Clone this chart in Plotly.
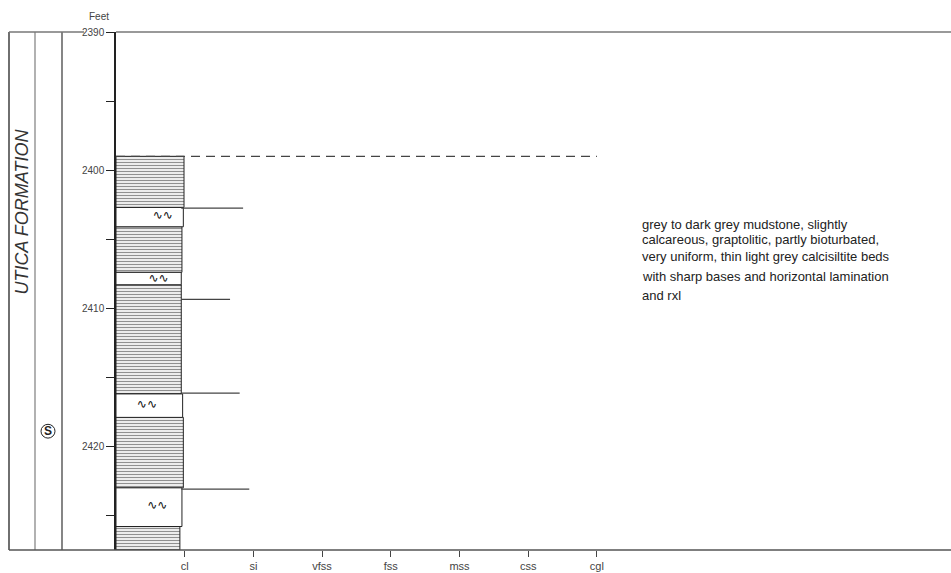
import plotly.graph_objects as go

# Grain-size scale along the bottom axis
grain_labels = ["cl", "si", "vfss", "fss", "mss", "css", "cgl"]
grain_pos = [1, 2, 3, 4, 5, 6, 7]

# Depth axis (feet)
depth_top = 2390
depth_bottom = 2427.5
depth_ticks = [2390, 2395, 2400, 2405, 2410, 2415, 2420, 2425]
depth_labels = ["2390", "", "2400", "", "2410", "", "2420", ""]

# Laminated mudstone intervals: top, base, grain-size width
mud_top = [2399.0, 2404.1, 2408.3, 2417.9, 2425.8]
mud_base = [2402.7, 2407.4, 2416.2, 2423.0, 2427.5]
mud_width = [0.99, 0.96, 0.95, 0.98, 0.93]

# Light grey calcisiltite beds: top, base, grain-size width
bed_top = [2402.7, 2407.4, 2416.2, 2423.0]
bed_base = [2404.1, 2408.3, 2417.9, 2425.8]
bed_width = [0.98, 0.95, 0.97, 0.96]

# Grain-size ticks to the right of the column: depth and grain size
gs_depth = [2402.75, 2409.35, 2416.15, 2423.1]
gs_value = [1.85, 1.66, 1.80, 1.94]

# Bioturbation symbols inside beds
bio_depth = [2403.35, 2407.85, 2417.0, 2424.3]
bio_x = [0.68, 0.62, 0.45, 0.60]

# Sample marker in the second column (depth)
sample_depth = 2418.9

top_contact = 2399.0

description = [
    "grey to dark grey mudstone, slightly",
    "calcareous, graptolitic, partly bioturbated,",
    "very uniform, thin light grey calcisiltite beds",
    "with sharp bases and horizontal lamination",
    "and rxl",
]
desc_y = [2403.95, 2405.0, 2406.25, 2407.7, 2409.1]

fig = go.Figure()

mid = lambda a, b: [(t + s) / 2 for t, s in zip(a, b)]
thick = lambda a, b: [s - t for t, s in zip(a, b)]

fig.add_trace(go.Bar(
    orientation="h",
    y=mid(mud_top, mud_base), x=mud_width, width=thick(mud_top, mud_base), base=0,
    marker=dict(color="white", line=dict(color="#222", width=1),
                pattern=dict(shape="-", size=3, solidity=0.45, fgcolor="#222", bgcolor="white")),
    hoverinfo="skip", showlegend=False,
))
fig.add_trace(go.Bar(
    orientation="h",
    y=mid(bed_top, bed_base), x=bed_width, width=thick(bed_top, bed_base), base=0,
    marker=dict(color="white", line=dict(color="#222", width=1)),
    hoverinfo="skip", showlegend=False,
))

for d, v in zip(gs_depth, gs_value):
    fig.add_trace(go.Scatter(x=[0.95, v], y=[d, d], mode="lines",
                             line=dict(color="#444", width=1.2),
                             hoverinfo="skip", showlegend=False))

fig.add_trace(go.Scatter(x=[0, grain_pos[-1]], y=[top_contact, top_contact], mode="lines",
                         line=dict(color="#444", width=1.2, dash="9px,6px"),
                         hoverinfo="skip", showlegend=False))

fig.add_trace(go.Scatter(x=bio_x, y=bio_depth, mode="text", text=["∿∿"] * len(bio_x),
                         textfont=dict(size=12, color="#111", family="DejaVu Sans"),
                         hoverinfo="skip", showlegend=False))

for line, yv in zip(description, desc_y):
    fig.add_annotation(x=7.63, y=yv, xref="x", yref="y", text=line, showarrow=False,
                       xanchor="left", yanchor="middle",
                       font=dict(family="Liberation Sans, Arial", size=13, color="#222"))

# Left-hand stratigraphic columns
L = 116
W = 951 - L
px = lambda p: (p - L) / W
shapes = []
for xp, col in [(9, "#222"), (35, "#888"), (62, "#444")]:
    shapes.append(dict(type="line", xref="paper", yref="paper", x0=px(xp), x1=px(xp),
                       y0=0, y1=1, line=dict(color=col, width=1.3)))
# top border, broken around the first depth label
for x0, x1 in [(px(9), px(84)), (0, 1)]:
    shapes.append(dict(type="line", xref="paper", yref="paper", x0=x0, x1=x1, y0=1, y1=1,
                       line=dict(color="#777", width=1.5)))
shapes.append(dict(type="line", xref="paper", yref="paper", x0=px(9), x1=1, y0=0, y1=0,
                   line=dict(color="#555", width=1.5)))
shapes.append(dict(type="circle", xref="paper", yref="y", x0=px(41), x1=px(55),
                   y0=sample_depth - 0.5, y1=sample_depth + 0.5,
                   line=dict(color="#222", width=1)))

fig.add_annotation(x=px(48), y=sample_depth, xref="paper", yref="y", text="<b>S</b>", showarrow=False,
                   xanchor="center", yanchor="middle",
                   font=dict(family="Liberation Sans, Arial", size=12, color="#222"))
fig.add_annotation(x=px(22), y=2403.0, xref="paper", yref="y", text="<i>UTICA FORMATION</i>",
                   showarrow=False, textangle=-90, xanchor="center", yanchor="middle",
                   font=dict(family="Liberation Sans, Arial", size=18, color="#333"))
fig.add_annotation(x=px(99), y=1, xref="paper", yref="paper", yshift=16, text="Feet",
                   showarrow=False, xanchor="center", yanchor="middle",
                   font=dict(family="Liberation Sans Narrow, Liberation Sans, Arial", size=10, color="#444"))

fig.update_layout(
    width=951, height=573,
    margin=dict(l=L, r=0, t=32, b=23),
    paper_bgcolor="white", plot_bgcolor="white",
    shapes=shapes, barmode="overlay",
    xaxis=dict(range=[0, W / 68.7], tickvals=grain_pos, ticktext=grain_labels,
               showgrid=False, zeroline=False, showline=False,
               ticks="outside", ticklen=6, tickcolor="#444",
               tickfont=dict(family="Liberation Sans Narrow, Liberation Sans, Arial", size=11, color="#444")),
    yaxis=dict(range=[depth_bottom, depth_top], tickvals=depth_ticks, ticktext=depth_labels,
               showgrid=False, zeroline=False, showline=True, linecolor="#222", linewidth=1.5,
               ticks="outside", ticklen=8, tickcolor="#222",
               tickfont=dict(family="Liberation Sans Narrow, Liberation Sans, Arial", size=10, color="#444")),
)

fig.write_html("out.html")
